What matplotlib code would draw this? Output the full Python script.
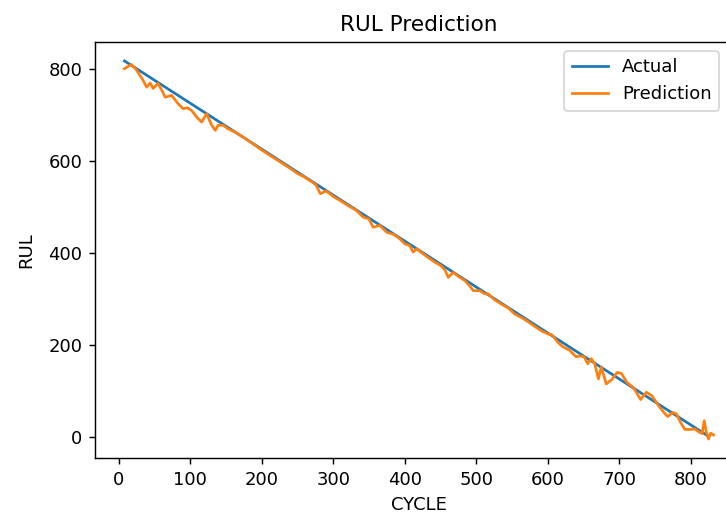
import matplotlib
matplotlib.use("Agg")
import matplotlib.pyplot as plt

# Actual remaining useful life: straight run-down from first to last cycle
actual_cycle = [8, 825]
actual_rul = [818, 1]

# Model prediction sampled along the run
pred_cycle = [8, 13, 18, 24, 30, 34, 39, 44, 48, 55, 60, 65, 74, 83, 90, 96, 102,
              109, 116, 123, 130, 135, 139, 146, 153, 163, 172, 181, 190, 200, 210,
              220, 230, 240, 250, 260, 270, 276, 282, 290, 302, 312, 322, 332, 342,
              350, 356, 365, 375, 385, 393, 400, 407, 412, 417, 425, 433, 442, 450,
              456, 461, 468, 476, 484, 490, 496, 505, 512, 517, 525, 535, 545, 554,
              564, 572, 582, 592, 600, 606, 614, 621, 630, 640, 646, 651, 656, 661,
              666, 671, 675, 682, 690, 697, 703, 711, 720, 730, 738, 746, 755, 763,
              768, 775, 780, 786, 792, 800, 806, 811, 816, 819, 822, 825, 828, 832]
pred_rul = [801, 806, 810, 800, 786, 776, 761, 770, 758, 769, 755, 739, 743, 725,
            714, 716, 710, 696, 685, 703, 678, 667, 678, 678, 670, 663, 654, 645,
            635, 624, 614, 604, 594, 584, 573, 565, 555, 548, 529, 535, 521, 512,
            502, 493, 478, 474, 456, 460, 445, 440, 431, 420, 416, 402, 409, 399,
            390, 380, 373, 364, 347, 358, 348, 340, 330, 318, 318, 311, 311, 299,
            289, 280, 267, 259, 251, 240, 230, 224, 222, 206, 196, 189, 174, 176,
            174, 159, 170, 158, 126, 152, 115, 125, 140, 138, 118, 107, 81, 97, 89,
            68, 52, 44, 53, 50, 31, 16, 16, 17, 11, 7, 35, 10, -5, 8, 4]

fig = plt.figure(figsize=(726 / 130, 518 / 130), dpi=130)
ax = fig.add_axes([95 / 726, 60 / 518, 648 / 726, 416 / 518])

ax.plot(actual_cycle, actual_rul, label="Actual")
ax.plot(pred_cycle, pred_rul, label="Prediction")

ax.set_title("RUL Prediction")
ax.set_xlabel("CYCLE")
ax.set_ylabel("RUL", labelpad=7)
ax.set_xticks(range(0, 801, 100))
ax.set_yticks(range(0, 801, 200))
ax.legend(loc="upper right", bbox_to_anchor=(1 - 15 / 648, 1.0))

fig.savefig("out.png", dpi=130)
